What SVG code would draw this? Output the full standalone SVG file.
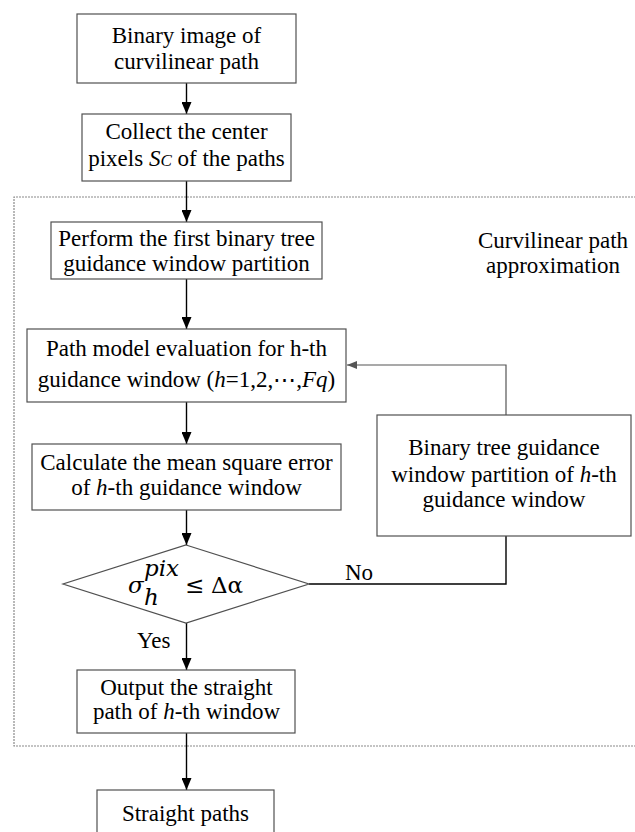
<svg xmlns="http://www.w3.org/2000/svg" width="635" height="832" viewBox="0 0 635 832">
  <defs>
    <marker id="ah" viewBox="0 0 12 10" refX="12" refY="5" markerWidth="12" markerHeight="10" markerUnits="userSpaceOnUse" orient="auto">
      <path d="M0,0 L12,5 L0,10 z" fill="#000"/>
    </marker>
    <marker id="ahg" viewBox="0 0 10 8" refX="10" refY="4" markerWidth="10" markerHeight="8" markerUnits="userSpaceOnUse" orient="auto">
      <path d="M0,0 L10,4 L0,8 z" fill="#555"/>
    </marker>
    <style>
      text { font-family: "Liberation Serif", "Times New Roman", serif; font-size: 23px; fill: #000; }
      .c { text-anchor: middle; }
      .i { font-style: italic; }
      .m { font-family: "DejaVu Serif", "Liberation Serif", serif; }
      .box { fill: #fff; stroke: #505050; stroke-width: 1.2; }
      .flow { fill: none; stroke: #000; stroke-width: 1.4; }
      .back { fill: none; stroke: #555; stroke-width: 1.2; }
      .region { fill: none; stroke: #8a8a8a; stroke-width: 1.2; stroke-dasharray: 2 1; }
    </style>
  </defs>

  <rect width="635" height="832" fill="#fff"/>

  <!-- dotted region enclosing the approximation loop -->
  <g id="region">
    <path class="region" d="M636,197 H14 V746 H636"/>
    <text class="c" x="553" y="248">Curvilinear path</text>
    <text class="c" x="553" y="273">approximation</text>
  </g>

  <!-- connectors -->
  <g id="connectors">
    <line class="flow" x1="186.5" y1="83" x2="186.5" y2="114" marker-end="url(#ah)"/>
    <line class="flow" x1="186.5" y1="181" x2="186.5" y2="222" marker-end="url(#ah)"/>
    <line class="flow" x1="186.5" y1="279" x2="186.5" y2="329" marker-end="url(#ah)"/>
    <line class="flow" x1="186.5" y1="402" x2="186.5" y2="444" marker-end="url(#ah)"/>
    <line class="flow" x1="186.5" y1="510" x2="186.5" y2="545" marker-end="url(#ah)"/>
    <line class="flow" x1="186.5" y1="623" x2="186.5" y2="670" marker-end="url(#ah)"/>
    <line class="flow" x1="186.5" y1="733" x2="186.5" y2="790" marker-end="url(#ah)"/>
    <path class="flow" d="M309,584 H506 V536"/>
    <path class="back" d="M506,415 V365 H347" marker-end="url(#ahg)"/>
    <text x="345" y="580">No</text>
    <text x="137" y="648">Yes</text>
  </g>

  <g id="binary-image">
    <rect class="box" x="77" y="14" width="219" height="69"/>
    <text class="c" x="186.5" y="43">Binary image of</text>
    <text class="c" x="186.5" y="69">curvilinear path</text>
  </g>

  <g id="collect-center">
    <rect class="box" x="82" y="114" width="209" height="67"/>
    <text class="c" x="186.5" y="139">Collect the center</text>
    <text class="c" x="186.5" y="166">pixels <tspan class="i">S</tspan><tspan class="i" font-size="17">C</tspan> of the paths</text>
  </g>

  <g id="first-partition">
    <rect class="box" x="51" y="222" width="271" height="57"/>
    <text class="c" x="186.5" y="246">Perform the first binary tree</text>
    <text class="c" x="186.5" y="271">guidance window partition</text>
  </g>

  <g id="model-evaluation">
    <rect class="box" x="27" y="329" width="319" height="73"/>
    <text class="c" x="186.5" y="356">Path model evaluation for h-th</text>
    <text class="c" x="186.5" y="387">guidance window (<tspan class="i">h</tspan>=1,2,⋯,<tspan class="i">Fq</tspan>)</text>
  </g>

  <g id="mean-square-error">
    <rect class="box" x="32" y="444" width="309" height="66"/>
    <text class="c" x="186.5" y="470">Calculate the mean square error</text>
    <text class="c" x="186.5" y="495">of <tspan class="i">h</tspan>-th guidance window</text>
  </g>

  <g id="threshold-check">
    <polygon class="box" points="186,545 309,584 186,623 63,584"/>
    <text class="m i" x="128" y="593" font-size="24">σ</text>
    <text class="m i" x="144" y="576" font-size="14">pix</text>
    <text class="m i" x="144" y="605" font-size="14">h</text>
    <text class="m" x="185" y="593" font-size="22">≤</text>
    <text class="m" x="211" y="593" font-size="24">Δα</text>
  </g>

  <g id="sub-partition">
    <rect class="box" x="377" y="415" width="254" height="121"/>
    <text class="c" x="504" y="455">Binary tree guidance</text>
    <text class="c" x="504" y="482">window partition of <tspan class="i">h</tspan>-th</text>
    <text class="c" x="504" y="507">guidance window</text>
  </g>

  <g id="output-straight">
    <rect class="box" x="77" y="670" width="218" height="63"/>
    <text class="c" x="186.5" y="695">Output the straight</text>
    <text class="c" x="186.5" y="719">path of <tspan class="i">h</tspan>-th window</text>
  </g>

  <g id="straight-paths">
    <rect class="box" x="97" y="790" width="177" height="50"/>
    <text class="c" x="185.5" y="821">Straight paths</text>
  </g>
</svg>
